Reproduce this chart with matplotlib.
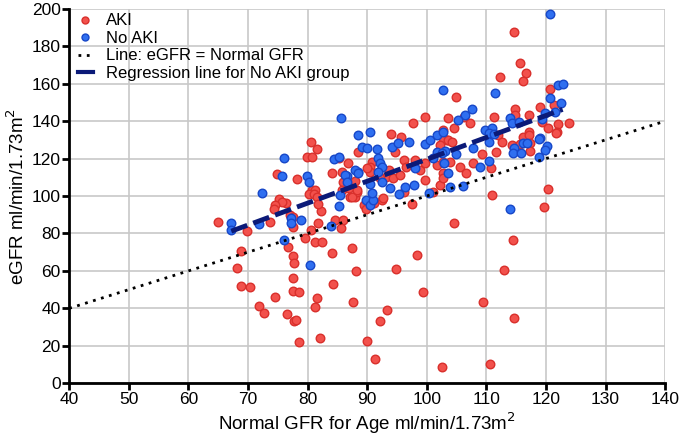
import numpy as np
import matplotlib
matplotlib.use("Agg")
import matplotlib.pyplot as plt
from matplotlib.lines import Line2D

plt.rcParams['font.family'] = ['Liberation Sans', 'DejaVu Sans']

# AKI group (normal GFR for age, eGFR)
aki_x = [80.6, 81.6, 79.9, 80.7, 74.8, 78.2, 80.7, 81.3, 80.2, 81.0, 81.6,
         75.2, 76.4, 75.7, 74.6, 74.4, 77.1, 77.6, 77.5, 73.7, 64.9, 69.8,
         80.6, 79.6, 76.8, 77.6, 68.8, 81.3, 77.8, 68.2, 68.9, 70.4, 77.5,
         77.6, 78.6, 74.6, 81.6, 81.2, 71.8, 72.7, 76.6, 77.8, 78.1, 78.5, 82.1,
         82.5, 84.1, 87.5, 98.3, 88.1, 94.8, 84.2, 99.4, 87.7, 93.4, 92.1,
         90.0, 91.3, 102.5, 81.8, 84.6, 86.0, 85.6, 82.3, 81.8, 87.1, 88.0, 88.3,
         89.4, 89.8, 91.2, 92.5, 92.7, 97.6, 99.7, 97.7, 94.0, 95.7, 94.7, 103.4,
         85.3, 86.8, 84.1, 85.7, 86.0, 88.0, 90.8, 90.5, 90.4, 93.7, 93.2, 92.2,
         94.4, 95.5, 96.1, 96.6, 98.1, 98.9, 99.7, 101.7, 102.8, 102.2, 101.1,
         99.7, 96.1, 114.7, 115.6, 116.6, 116.1, 112.3, 120.7, 104.9, 121.4,
         103.6, 106.2, 107.3, 111.2, 114.8, 114.8, 117.1, 119.0, 119.3, 120.4,
         122.1, 123.8, 102.8, 104.6, 117.1, 116.2, 121.8, 112.0, 102.7, 103.6,
         104.2, 112.6, 114.3, 115.7, 117.1, 117.4, 117.4, 121.7, 109.2, 111.6,
         102.2, 103.9, 102.8, 105.6, 106.6, 107.7, 110.7, 102.7, 111.0, 120.3,
         119.7, 104.6, 114.4, 113.0, 109.4, 114.7, 110.6, 88.4, 89.9, 85.7,
         86.9, 87.4, 88.3]
aki_y = [128.7, 125.0, 121.0, 121.0, 111.6, 108.9, 103.2, 103.2, 101.1, 101.1, 99.6,
         98.4, 96.1, 97.0, 95.2, 92.9, 89.8, 88.6, 83.3, 85.9, 86.3, 81.4,
         82.1, 77.4, 72.6, 67.9, 70.8, 75.6, 64.3, 61.3, 52.2, 51.5, 56.3,
         49.2, 48.5, 46.1, 45.3, 40.5, 41.3, 37.3, 36.9, 33.2, 33.7, 22.1, 24.1,
         75.2, 69.3, 72.5, 68.4, 59.9, 61.0, 52.8, 48.8, 43.2, 39.2, 33.3,
         22.5, 13.2, 8.7, 85.4, 87.2, 87.2, 83.0, 92.1, 95.6, 99.3, 99.3, 102.3,
         95.2, 92.9, 96.1, 97.9, 98.8, 95.7, 142.1, 139.2, 133.2, 131.7, 123.7, 129.9,
         120.5, 117.5, 112.1, 113.0, 107.6, 108.0, 118.3, 115.7, 113.0, 113.9, 110.3, 109.5,
         109.5, 111.2, 119.3, 115.7, 119.3, 113.9, 117.5, 116.6, 112.1, 105.9, 102.3,
         108.6, 102.3, 187.5, 170.9, 165.9, 161.5, 163.5, 157.2, 153.1, 148.7,
         141.5, 142.4, 138.8, 142.4, 146.4, 143.3, 143.3, 147.4, 139.7, 136.2,
         138.5, 138.8, 135.3, 136.2, 134.4, 131.7, 134.4, 132.6, 130.8, 129.9,
         129.0, 129.0, 127.3, 127.8, 132.6, 128.2, 124.2, 133.8, 122.5, 123.4,
         127.3, 118.3, 118.0, 115.3, 112.1, 117.4, 114.8, 109.4, 100.8, 103.5,
         94.1, 85.6, 76.5, 60.4, 43.2, 34.8, 10.2, 123.7, 114.8, 103.2,
         104.1, 99.6, 103.2]

# No AKI group
noaki_x = [76.0, 75.7, 79.9, 80.3, 72.3, 77.2, 77.2, 78.9, 67.2, 67.2, 71.9, 76.0, 80.4,
           83.9, 85.2, 85.4, 89.8, 90.5, 91.0, 90.8, 95.4, 100.3,
           85.6, 102.8, 90.5, 89.1, 89.9, 91.7, 94.2, 95.1, 97.1, 99.7, 100.6, 101.7, 102.8,
           84.5, 86.6, 88.4, 91.9, 92.2, 92.5, 91.9, 90.5, 92.5, 98.1, 97.8, 96.4, 93.9,
           101.7, 101.1, 120.7, 122.1, 122.8, 111.5, 120.7, 122.5, 107.6, 106.4, 105.3,
           114.0, 114.3, 115.4, 119.9, 121.5, 119.3, 109.7, 110.9, 119.0,
           110.5, 111.2, 110.5, 114.7, 116.1, 116.9, 114.4, 115.8, 118.9, 120.2, 119.9,
           118.9, 107.8, 104.9, 103.1, 102.5, 102.9, 103.6, 109.0, 110.4, 103.9, 106.0,
           114.0, 88.4, 85.2, 88.0, 88.5, 86.3, 86.6]
noaki_y = [120.2, 110.7, 110.9, 107.6, 101.4, 88.1, 85.4, 87.0, 85.4, 81.8, 85.0, 76.5, 63.1,
           84.1, 94.8, 100.6, 97.9, 95.2, 97.9, 101.4, 101.1, 101.8,
           141.5, 156.7, 134.4, 126.0, 125.5, 124.9, 126.4, 128.5, 129.0, 127.6, 129.9, 132.6, 134.4,
           119.8, 110.7, 113.0, 120.2, 117.8, 115.7, 113.0, 106.4, 107.3, 114.8, 105.9, 105.0, 104.1,
           123.3, 120.2, 197.1, 159.4, 159.7, 154.9, 152.2, 149.5, 146.4, 143.3, 140.6,
           141.5, 138.8, 139.7, 144.2, 145.1, 141.0, 135.3, 136.2, 130.8,
           133.8, 133.2, 129.0, 125.5, 128.5, 128.5, 122.8, 122.8, 130.3, 126.7, 124.6,
           121.0, 125.5, 122.5, 124.2, 123.2, 117.4, 112.5, 115.3, 118.9, 105.0, 105.3,
           93.0, 132.6, 121.0, 113.9, 112.5, 111.2, 107.6]

identity = [40, 140]

# regression line for No AKI group
reg_slope = 1.17
reg_intercept = 2.6

fig = plt.figure(figsize=(6.85, 4.41), dpi=100)
ax = fig.add_axes([0.101, 0.131, 0.870, 0.849])

ax.scatter(aki_x, aki_y, s=38, color='#f2514c', edgecolors='#d9302c',
           linewidths=1.0, zorder=3)
ax.scatter(noaki_x, noaki_y, s=38, color='#2f6ff0', edgecolors='#1747c8',
           linewidths=1.0, zorder=3)

ax.plot(identity, identity, color='black', linestyle=(0, (1, 2)), linewidth=2.0, zorder=4)

rx = np.array([min(noaki_x), max(noaki_x)])
ax.plot(rx, reg_slope * rx + reg_intercept, color='#0b1a78', linestyle=(0, (3.5, 1.3)),
        linewidth=3.5, zorder=5)

ax.set_xlim(40, 140)
ax.set_ylim(0, 200)
ax.set_xticks(range(40, 141, 10))
ax.set_yticks(range(0, 201, 20))
ax.grid(True, color='#c8c8c8', linewidth=1.2)
ax.set_axisbelow(True)
for s in ['top', 'right']:
    ax.spines[s].set_visible(False)
for s in ['left', 'bottom']:
    ax.spines[s].set_linewidth(2.0)
ax.tick_params(direction='out', length=5, width=2, labelsize=12.5, pad=1)

ax.set_xlabel('Normal GFR for Age ml/min/1.73m$^2$', fontsize=13.5, labelpad=3)
ax.set_ylabel('eGFR ml/min/1.73m$^2$', fontsize=13.5, labelpad=3)

handles = [
    Line2D([], [], marker='o', linestyle='none', markersize=5,
           markerfacecolor='#f2514c', markeredgecolor='#d9302c'),
    Line2D([], [], marker='o', linestyle='none', markersize=5,
           markerfacecolor='#2f6ff0', markeredgecolor='#1747c8'),
    Line2D([], [], color='black', linestyle=(0, (1, 2)), linewidth=2.0),
    Line2D([], [], color='#0b1a78', linewidth=3.0),
]
labels = ['AKI', 'No AKI', 'Line: eGFR = Normal GFR', 'Regression line for No AKI group']
ax.legend(handles, labels, loc='upper left', frameon=False, fontsize=12,
          handlelength=0.9, handletextpad=0.8, labelspacing=0.15,
          borderaxespad=0.1, bbox_to_anchor=(0.0, 1.01))

fig.savefig('out.png', dpi=100)
